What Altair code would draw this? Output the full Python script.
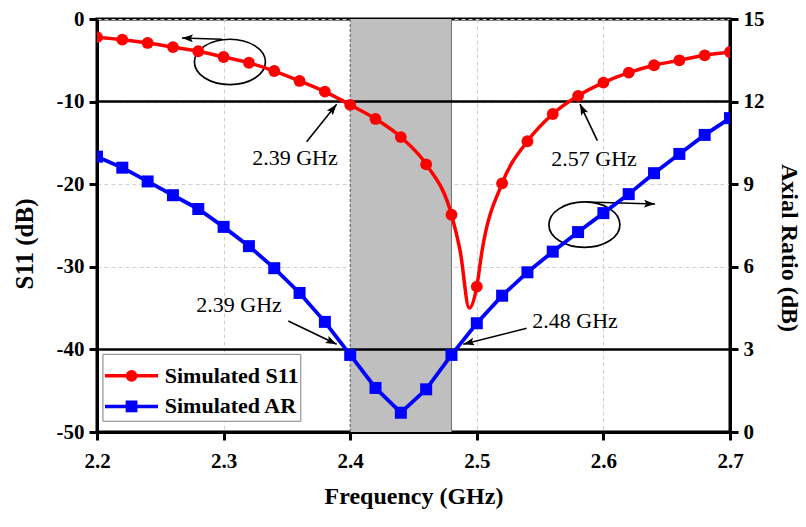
import math
import altair as alt
import pandas as pd

# ---------------- data ----------------
freq = [2.20, 2.22, 2.24, 2.26, 2.28, 2.30, 2.32, 2.34, 2.36, 2.38, 2.40, 2.42, 2.44,
        2.46, 2.48, 2.50, 2.52, 2.54, 2.56, 2.58, 2.60, 2.62, 2.64, 2.66, 2.68, 2.70]
s11_db = [-2.2, -2.5, -2.9, -3.4, -3.9, -4.6, -5.3, -6.3, -7.5, -8.8, -10.4, -12.1, -14.3,
          -17.6, -23.7, -32.4, -19.9, -14.8, -11.5, -9.3, -7.7, -6.5, -5.6, -5.0, -4.4, -4.0]
ar_db = [10.0, 9.6, 9.1, 8.6, 8.1, 7.45, 6.75, 5.95, 5.05, 4.0, 2.8, 1.6, 0.7,
         1.55, 2.8, 3.95, 4.95, 5.8, 6.55, 7.26, 7.95, 8.64, 9.4, 10.1, 10.79, 11.4]
# extra (unmarked) points that shape the resonance dip of S11
s11_dip_freq = [2.487, 2.494, 2.504]
s11_dip_db = [-28.2, -35.0, -28.2]

band_freq = [2.40, 2.48]
s11_threshold = -10
ar_threshold = 3

x_ticks = [2.2, 2.3, 2.4, 2.5, 2.6, 2.7]
s11_ticks = [0, -10, -20, -30, -40, -50]
ar_ticks = [0, 3, 6, 9, 12, 15]

series_names = ["Simulated S11", "Simulated AR"]
series_colors = ["#ff0000", "#0000ff"]
series_shapes = ["circle", "square"]

note_labels = ["2.39 GHz", "2.57 GHz", "2.39 GHz", "2.48 GHz"]
note_freq = [2.3564, 2.5926, 2.3122, 2.5776]
note_db = [-16.8, -16.95, -34.6, -36.56]

arrow_from_freq = [2.2987, 2.5870, 2.3656, 2.5952, 2.3511, 2.5394]
arrow_from_db = [-2.46, -22.15, -14.85, -14.73, -36.56, -37.45]
arrow_to_freq = [2.2671, 2.6408, 2.3893, 2.5815, 2.3893, 2.4893]
arrow_to_db = [-2.30, -22.40, -10.33, -10.30, -39.38, -39.38]

ring_freq = [2.305, 2.585]
ring_db = [-5.2, -24.9]

# ---------------- layout ----------------
W, H = 633, 413
X_DOM = [2.2, 2.7]
L_DOM = [-50, 0]
R_DOM = [0, 15]
px_x = W / (X_DOM[1] - X_DOM[0])
px_y = H / (L_DOM[1] - L_DOM[0])

FONT = "Liberation Serif"
xs = alt.Scale(domain=X_DOM, nice=False, zero=False)
ls = alt.Scale(domain=L_DOM, nice=False, zero=False)
rs = alt.Scale(domain=R_DOM, nice=False, zero=False)
cscale = alt.Scale(domain=series_names, range=series_colors)
sscale = alt.Scale(domain=series_names, range=series_shapes)

XA = alt.Axis(values=x_ticks, format=".1f", title="Frequency (GHz)", grid=True,
              labelFlush=False, labelPadding=10, titleFontSize=24,
              titleY=71, titleBaseline="alphabetic")
LA = alt.Axis(values=s11_ticks, labelExpr="toString(datum.value)", title="S11 (dB)",
              grid=True, labelFlush=False, labelPadding=5, titleFontSize=25,
              titleAngle=270, titleX=-65, titleY=224.5, titleAlign="center",
              titleBaseline="alphabetic")
RA = alt.Axis(values=ar_ticks, title="Axial Ratio (dB)", orient="right", grid=False,
              labelFlush=False, labelPadding=5, titleFontSize=24,
              titleAngle=90, titleX=51, titleY=228.5, titleAlign="center",
              titleBaseline="alphabetic")


def X(field):
    return alt.X(field, scale=xs, axis=XA, title="Frequency (GHz)")


def YL(field):
    return alt.Y(field, scale=ls, axis=LA, title="S11 (dB)")


def YR(field):
    return alt.Y(field, scale=rs, axis=RA, title="Axial Ratio (dB)")


# ---------------- tables ----------------
df_s11 = pd.DataFrame({"freq": freq, "s11": s11_db})
df_s11_line = pd.concat([df_s11, pd.DataFrame({"freq": s11_dip_freq, "s11": s11_dip_db})]
                        ).sort_values("freq").reset_index(drop=True)
df_ar = pd.DataFrame({"freq": freq, "ar": ar_db})
df_band = pd.DataFrame({"f0": [band_freq[0]], "f1": [band_freq[1]],
                        "lo": [L_DOM[0]], "hi": [L_DOM[1]],
                        "s11t": [s11_threshold], "art": [ar_threshold]})
df_notes = pd.DataFrame({"label": note_labels, "freq": note_freq, "db": note_db})

angles = []
for fa, da, fb, db in zip(arrow_from_freq, arrow_from_db, arrow_to_freq, arrow_to_db):
    dx = (fb - fa) * px_x
    dy = -(db - da) * px_y
    angles.append(math.degrees(math.atan2(dy, dx)) % 360)
df_arrows = pd.DataFrame({"f0": arrow_from_freq, "d0": arrow_from_db,
                          "f1": arrow_to_freq, "d1": arrow_to_db, "ang": angles})
df_rings = pd.DataFrame({"freq": ring_freq, "db": ring_db})
df_leg = pd.DataFrame({"series": series_names, "ly": [-43.2, -46.9],
                       "bx0": [2.2047] * 2, "bx1": [2.361] * 2,
                       "by0": [-40.6] * 2, "by1": [-48.7] * 2,
                       "lx0": [2.2063] * 2, "lx1": [2.2482] * 2,
                       "mx": [2.2273] * 2, "tx": [2.2535] * 2})

ARROW_PATH = "M0,0 L-2,-0.7 L-1.6,0 L-2,0.7 Z"
ELLIPSE_PATH = "M-1,0 A1,0.64 0 1,1 1,0 A1,0.64 0 1,1 -1,0 Z"

# ---------------- left (S11) group ----------------
band = alt.Chart(df_band).mark_rect(color="#bfbfbf").encode(
    x=X("f0:Q"), x2="f1:Q", y=YL("lo:Q"), y2="hi:Q")
band_left = alt.Chart(df_band).mark_rule(color="#555555", strokeWidth=1, strokeDash=[3, 2]).encode(
    x=X("f0:Q"), y=YL("lo:Q"), y2="hi:Q")
band_right = alt.Chart(df_band).mark_rule(color="#707070", strokeWidth=1).encode(
    x=X("f1:Q"), y=YL("lo:Q"), y2="hi:Q")
s11_rule = alt.Chart(df_band).mark_rule(color="black", strokeWidth=2.5).encode(
    y=YL("s11t:Q"))

rings = alt.Chart(df_rings).mark_point(shape=ELLIPSE_PATH, filled=False, color="black",
                                       strokeWidth=1.7, size=5041, opacity=1).encode(
    x=X("freq:Q"), y=YL("db:Q"))
shafts = alt.Chart(df_arrows).mark_rule(color="black", strokeWidth=1.6).encode(
    x=X("f0:Q"), y=YL("d0:Q"), x2="f1:Q", y2="d1:Q")
heads = alt.Chart(df_arrows).mark_point(shape=ARROW_PATH, filled=True, color="black",
                                        size=121, opacity=1, strokeWidth=0).encode(
    x=X("f1:Q"), y=YL("d1:Q"), angle=alt.Angle("ang:Q", scale=None))
notes = alt.Chart(df_notes).mark_text(font=FONT, fontSize=22, color="black",
                                      align="center", baseline="middle").encode(
    x=X("freq:Q"), y=YL("db:Q"), text="label:N")

leg_box = alt.Chart(df_leg.head(1)).mark_rect(fill="white", stroke="#808080", strokeWidth=1).encode(
    x=X("bx0:Q"), x2="bx1:Q", y=YL("by0:Q"), y2="by1:Q")
leg_lines = alt.Chart(df_leg).mark_rule(strokeWidth=3.5).encode(
    x=X("lx0:Q"), x2="lx1:Q", y=YL("ly:Q"),
    color=alt.Color("series:N", scale=cscale, legend=None))
leg_marks = alt.Chart(df_leg).mark_point(filled=True, opacity=1, size=140).encode(
    x=X("mx:Q"), y=YL("ly:Q"),
    color=alt.Color("series:N", scale=cscale, legend=None),
    shape=alt.Shape("series:N", scale=sscale, legend=None))
leg_text = alt.Chart(df_leg).mark_text(font=FONT, fontSize=22, fontWeight="bold", color="black",
                                       align="left", baseline="middle").encode(
    x=X("tx:Q"), y=YL("ly:Q"), text="series:N")

s11_line = alt.Chart(df_s11_line).mark_line(color=series_colors[0], strokeWidth=3.5,
                                            interpolate="monotone", clip=True).encode(
    x=X("freq:Q"), y=YL("s11:Q"))
s11_pts = alt.Chart(df_s11).mark_point(shape="circle", filled=True, size=140, opacity=1,
                                       color=series_colors[0], clip=True).encode(
    x=X("freq:Q"), y=YL("s11:Q"))

left = alt.layer(band, band_left, band_right, s11_rule, rings, shafts, heads, notes,
                 leg_box, leg_lines, leg_marks, leg_text, s11_line, s11_pts)

# ---------------- right (AR) group ----------------
ar_rule = alt.Chart(df_band).mark_rule(color="black", strokeWidth=2.5).encode(
    y=YR("art:Q"))
ar_line = alt.Chart(df_ar).mark_line(color=series_colors[1], strokeWidth=3.8, clip=True).encode(
    x=X("freq:Q"), y=YR("ar:Q"))
ar_pts = alt.Chart(df_ar).mark_point(shape="square", filled=True, size=144, opacity=1,
                                     color=series_colors[1], clip=True).encode(
    x=X("freq:Q"), y=YR("ar:Q"))

right = alt.layer(ar_rule, ar_line, ar_pts)

chart = alt.layer(left, right).resolve_scale(y="independent").properties(
    width=W, height=H,
    padding={"left": 97, "top": 19, "right": 76, "bottom": 95},
    autosize=alt.AutoSizeParams(type="none"),
    background="white",
).configure(font=FONT).configure_axis(
    domainColor="black", domainWidth=3, tickColor="black", tickWidth=3, tickSize=8,
    labelFont=FONT, labelFontSize=21, labelFontWeight="bold", labelColor="black",
    titleFont=FONT, titleFontWeight="bold", titleColor="black",
    gridColor="#d0d0d0", gridDash=[4, 3], gridWidth=1,
).configure_view(stroke="black", strokeWidth=3)

chart.save("out.html", embed_options={"renderer": "svg", "actions": False})
